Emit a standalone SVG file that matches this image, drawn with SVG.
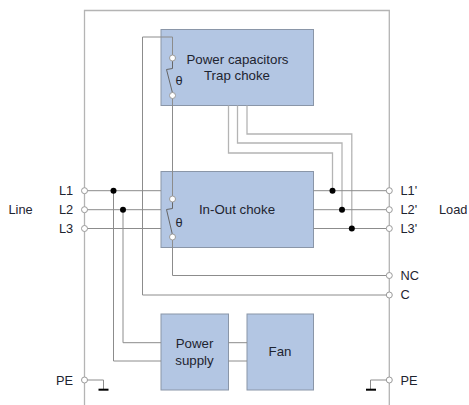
<svg xmlns="http://www.w3.org/2000/svg" width="469" height="405" viewBox="0 0 469 405">
<style>
.box{fill:#b3c6e3;stroke:#8a96a8;stroke-width:1}
.w{fill:none;stroke:#8c8c8c;stroke-width:1}
.l{fill:none;stroke:#b4b4b4;stroke-width:1.3}
.k{fill:none;stroke:#666;stroke-width:1}
.o{fill:#fff;stroke:#9a9a9a;stroke-width:1}
.d{fill:#000}
.g{fill:#000}
text{font-family:"Liberation Sans",Arial,sans-serif;font-size:12.8px;fill:#1e2430}
.n{font-size:13.3px;text-anchor:middle}
</style>
<rect width="469" height="405" fill="#fff"/>
<g id="node-capacitors"><rect class="box" x="161" y="29.5" width="152.5" height="76"/><text class="n" x="237.5" y="63.5">Power capacitors</text><text class="n" x="237" y="80">Trap choke</text><text x="175.5" y="84.5">θ</text></g>
<g id="node-inout"><rect class="box" x="161" y="171.5" width="152.5" height="76"/><text class="n" x="237" y="214">In-Out choke</text><text x="175.5" y="226.5">θ</text></g>
<g id="node-power"><rect class="box" x="161" y="314" width="67.5" height="76"/><text class="n" x="194.5" y="348">Power</text><text class="n" x="194.5" y="364.5">supply</text></g>
<g id="node-fan"><rect class="box" x="247" y="314" width="66.5" height="76"/><text class="n" x="280" y="356">Fan</text></g>
<g id="connectors">
<path class="l" d="M84.5 405V10.5H389.3V405"/>
<path class="w" d="M172.5 58V37H142.5V295H389.3"/>
<path class="w" d="M172.5 95.5V199M172.5 237V275.5H389.3"/>
<path class="k" d="M172.5 58V68.5L166.5 69.5L172.5 93"/>
<path class="k" d="M172.5 199V208.5L166.5 209.5L172.5 235"/>
<path class="l" d="M228.5 105.5V153H332.5V190.7M237.5 105.5V143H342V209.7M247 105.5V134H351.8V228.5"/>
<path class="w" d="M84.5 190.7H161M84.5 209.7H161M84.5 228.5H161M313.5 190.7H389.3M313.5 209.7H389.3M313.5 228.5H389.3"/>
<path class="w" d="M113.5 190.7V361H161M123 209.7V342.7H161M228.5 342.7H247M228.5 361H247"/>
<path class="w" d="M84.5 380H103.5V389M389.3 380H370.5V389"/>
<rect class="g" x="98.5" y="388.7" width="10" height="2"/>
<rect class="g" x="366" y="388.7" width="10" height="2"/>
<circle class="d" cx="113.5" cy="190.7" r="3"/><circle class="d" cx="123" cy="209.7" r="3"/>
<circle class="d" cx="332.5" cy="190.7" r="3"/><circle class="d" cx="342" cy="209.7" r="3"/><circle class="d" cx="351.8" cy="228.5" r="3"/>
<circle class="o" cx="172.5" cy="58" r="3"/><circle class="o" cx="172.5" cy="95.5" r="3"/>
<circle class="o" cx="172.5" cy="199" r="3"/><circle class="o" cx="172.5" cy="237" r="3"/>
<circle class="o" cx="84.5" cy="190.7" r="3"/><circle class="o" cx="84.5" cy="209.7" r="3"/><circle class="o" cx="84.5" cy="228.5" r="3"/><circle class="o" cx="84.5" cy="380" r="3"/>
<circle class="o" cx="389.3" cy="190.7" r="3"/><circle class="o" cx="389.3" cy="209.7" r="3"/><circle class="o" cx="389.3" cy="228.5" r="3"/><circle class="o" cx="389.3" cy="275.5" r="3"/><circle class="o" cx="389.3" cy="295" r="3"/><circle class="o" cx="389.3" cy="380" r="3"/>
</g>
<g id="labels">
<text x="59" y="195">L1</text><text x="59" y="214">L2</text><text x="59" y="233">L3</text><text x="56" y="384.5">PE</text>
<text x="8.5" y="214">Line</text><text x="439" y="214">Load</text>
<text x="400.5" y="195">L1'</text><text x="400.5" y="214">L2'</text><text x="400.5" y="233">L3'</text><text x="400.5" y="280">NC</text><text x="400.5" y="299">C</text><text x="400.5" y="384.5">PE</text>
</g>
</svg>
